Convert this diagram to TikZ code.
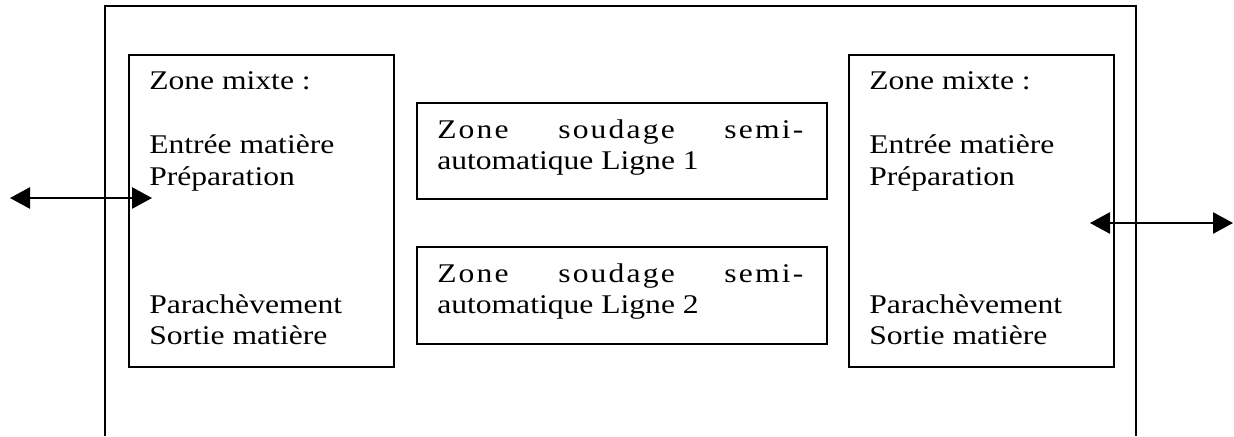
\documentclass[tikz,border=0pt]{standalone}
\usepackage{fontspec}
\setmainfont[FakeStretch=1.17]{Liberation Serif}
\usetikzlibrary{arrows.meta,calc}
\begin{document}
\begin{tikzpicture}[x=0.75pt,y=-0.75pt,
  frame/.style={draw, line width=1.2pt},
  zonebox/.style={draw, line width=1.2pt, rectangle, inner sep=0pt, anchor=north west},
  txt/.style={anchor=base west, inner sep=0pt, font=\fontsize{20.25pt}{24pt}\selectfont},
  mtxt/.style={anchor=base west, inner sep=0pt, font=\fontsize{20.25pt}{24pt}\selectfont},
  dblarrow/.style={{Triangle[length=15pt,width=16pt]}-{Triangle[length=15pt,width=16pt]}, line width=1.2pt}]
\useasboundingbox (0,0) rectangle (1234,436);

% outer frame (open at the bottom)
\coordinate (f1) at (105,436);
\coordinate (f2) at (105,6);
\coordinate (f3) at (1136,6);
\coordinate (f4) at (1136,436);
\draw[frame] (f1) -- (f2) -- (f3) -- (f4);

% boxes
\node[zonebox, minimum width=198.75pt, minimum height=234pt] (L) at (128,54) {};
\node[zonebox, minimum width=198.75pt, minimum height=234pt] (R) at (848,54) {};
\node[zonebox, minimum width=307.5pt, minimum height=72pt] (M1) at (416,102) {};
\node[zonebox, minimum width=307.5pt, minimum height=72.75pt] (M2) at (416,246) {};

% left box text
\node[txt] (L1) at (149,89) {Zone mixte :};
\node[txt] (L2) at (149,153) {Entrée matière};
\node[txt] (L3) at (149,185) {Préparation};
\node[txt] (L4) at (149,313) {Parachèvement};
\node[txt] (L5) at (149,344) {Sortie matière};

% right box text
\node[txt] (R1) at (869,89) {Zone mixte :};
\node[txt] (R2) at (869,153) {Entrée matière};
\node[txt] (R3) at (869,185) {Préparation};
\node[txt] (R4) at (869,313) {Parachèvement};
\node[txt] (R5) at (869,344) {Sortie matière};

% middle boxes text
\node[mtxt] (M1a) at (437,138) {\hbox to 274.5pt{\addfontfeature{LetterSpace=8}Zone\hfill soudage\hfill semi-}};
\node[mtxt] (M1b) at (437,169) {automatique Ligne 1};
\node[mtxt] (M2a) at (437,282) {\hbox to 274.5pt{\addfontfeature{LetterSpace=8}Zone\hfill soudage\hfill semi-}};
\node[mtxt] (M2b) at (437,313) {automatique Ligne 2};

% arrows
\coordinate (a1) at (10,198);
\coordinate (a2) at (152,198);
\coordinate (b1) at (1090,223);
\coordinate (b2) at (1233,223);
\draw[dblarrow] (a1) -- (a2);
\draw[dblarrow] (b1) -- (b2);
\end{tikzpicture}
\end{document}
